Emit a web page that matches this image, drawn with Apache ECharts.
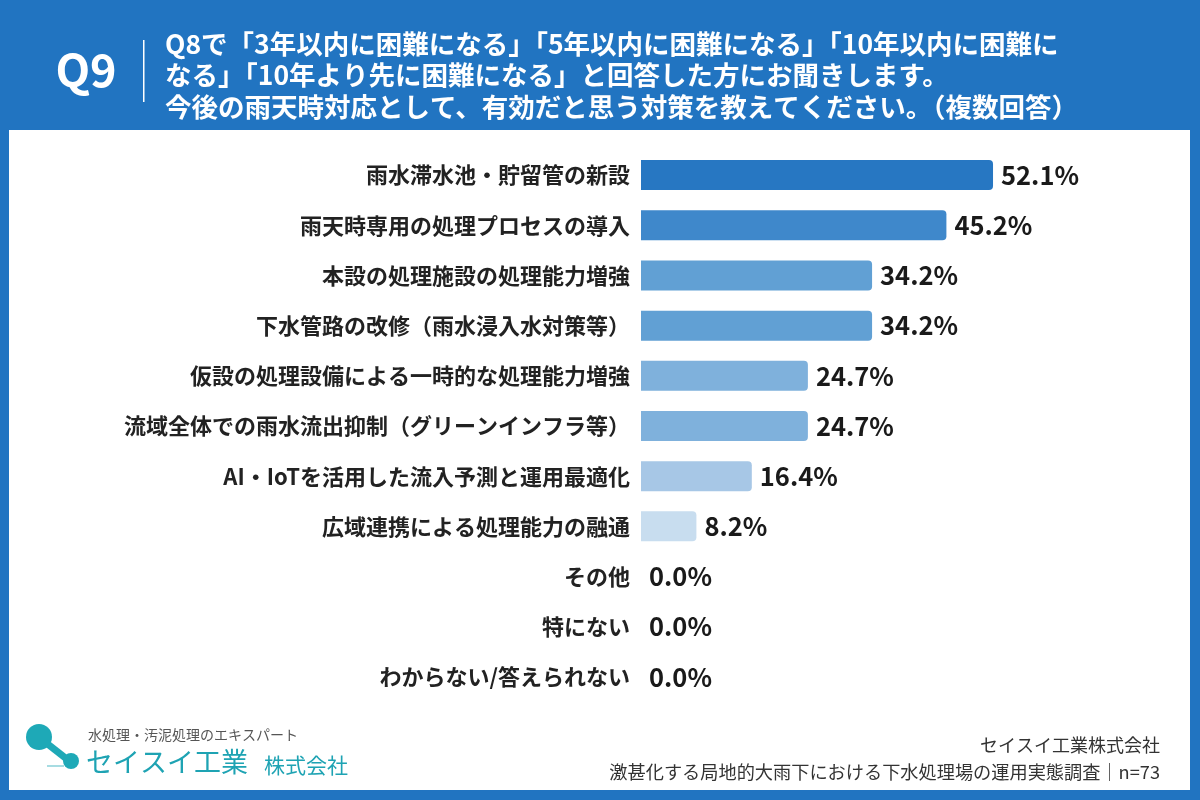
<!DOCTYPE html>
<html><head><meta charset="utf-8">
<script src="https://cdn.jsdelivr.net/npm/echarts@6/dist/echarts.min.js"></script>
<style>html,body{margin:0;padding:0;background:#2174c1}#c{width:1200px;height:800px}</style>
</head><body><div id="c"></div>
<script>
const categories = ['雨水滞水池・貯留管の新設','雨天時専用の処理プロセスの導入','本設の処理施設の処理能力増強','下水管路の改修（雨水浸入水対策等）','仮設の処理設備による一時的な処理能力増強','流域全体での雨水流出抑制（グリーンインフラ等）','AI・IoTを活用した流入予測と運用最適化','広域連携による処理能力の融通','その他','特にない','わからない/答えられない'];
const values = [52.1,45.2,34.2,34.2,24.7,24.7,16.4,8.2,0.0,0.0,0.0];
const barColors = ['#2777c2','#3f88cb','#61a0d4','#61a0d4','#7fb1dc','#7fb1dc','#a7c7e6','#c8ddef','#c8ddef','#c8ddef','#c8ddef'];
const titleLines = ['Q8で「3年以内に困難になる」「5年以内に困難になる」「10年以内に困難に','なる」「10年より先に困難になる」と回答した方にお聞きします。','今後の雨天時対応として、有効だと思う対策を教えてください。（複数回答）'];
const footerLines = ['セイスイ工業株式会社','激甚化する局地的大雨下における下水処理場の運用実態調査｜n=73'];

const FONT = '"Noto Sans CJK JP","Noto Sans",sans-serif';
const chart = echarts.init(document.getElementById('c'));
chart.setOption({
  backgroundColor: '#2174c1',
  animation: false,
  graphic: [
    {type:'rect', z:-10, shape:{x:9,y:130,width:1181,height:660}, style:{fill:'#ffffff'}},
    {type:'text', x:86, y:70, style:{text:'Q9', fill:'#ffffff', font:'bold 45px '+FONT, align:'center', verticalAlign:'middle'}},
    {type:'rect', shape:{x:143,y:40,width:1.5,height:62}, style:{fill:'#ffffff'}},
    {type:'text', x:165, y:28, style:{text:titleLines.join('\n'), fill:'#ffffff', font:'bold 26.5px '+FONT, lineHeight:31.5}},
    // logo
    {type:'line', shape:{x1:40,y1:738,x2:68,y2:760}, style:{stroke:'#1ea9b7', lineWidth:7}},
    {type:'circle', shape:{cx:39,cy:737,r:13}, style:{fill:'#1ea9b7'}},
    {type:'circle', shape:{cx:71,cy:761,r:8}, style:{fill:'#1ea9b7'}},
    {type:'line', shape:{x1:47,y1:766,x2:64,y2:766}, style:{stroke:'#8ad0d8', lineWidth:1.5}},
    {type:'text', x:88, y:735, style:{text:'水処理・汚泥処理のエキスパート', fill:'#555555', font:'14px '+FONT, verticalAlign:'middle'}},
    {type:'text', x:86, y:762, style:{text:'セイスイ工業', fill:'#1ea3b3', font:'27px '+FONT, verticalAlign:'middle'}},
    {type:'text', x:264, y:765, style:{text:'株式会社', fill:'#1ea3b3', font:'21px '+FONT, verticalAlign:'middle'}},
    {type:'text', x:1160, y:745, style:{text:footerLines[0], fill:'#333333', font:'18px '+FONT, align:'right', verticalAlign:'middle'}},
    {type:'text', x:1160, y:772, style:{text:footerLines[1], fill:'#333333', font:'18.2px '+FONT, align:'right', verticalAlign:'middle'}}
  ],
  grid: {left:641, right:153.6, top:150, bottom:98, containLabel:false},
  xAxis: {type:'value', min:0, max:60, show:false},
  yAxis: {type:'category', inverse:true, data:categories,
    axisLine:{show:false}, axisTick:{show:false},
    axisLabel:{color:'#222222', fontSize:22, fontWeight:'bold', fontFamily:FONT, margin:11}},
  series: [{
    type:'bar', barWidth:30,
    data: values.map((v,i)=>({value:v, itemStyle:{color:barColors[i]}})),
    itemStyle:{borderRadius:[0,4,4,0]},
    label:{show:true, position:'right', distance:8, formatter:p=>p.value.toFixed(1)+'%',
      color:'#1a1a1a', fontSize:25.5, fontWeight:'bold', fontFamily:FONT}
  }]
});
</script></body></html>
